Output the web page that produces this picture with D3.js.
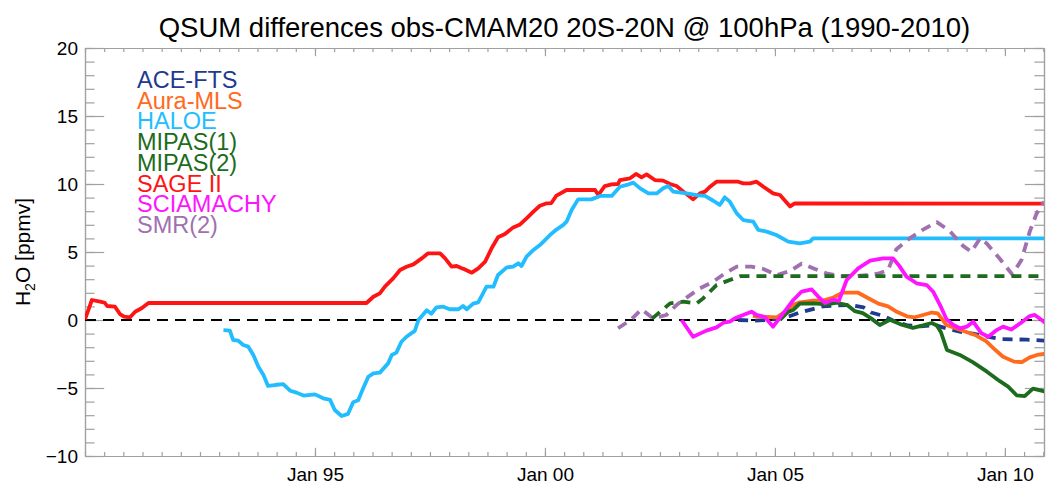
<!DOCTYPE html>
<html>
<head>
<meta charset="utf-8">
<script src="https://cdn.jsdelivr.net/npm/d3@7"></script>
<style>
  html, body { margin: 0; padding: 0; background: #fff; }
  svg { display: block; font-family: "Liberation Sans", Arial, Helvetica, sans-serif; }
  .axis path, .axis line { stroke: #a0a0a0; stroke-width: 1.2; }
  .axis text { fill: #000; font-size: 19px; }
</style>
</head>
<body>
<svg id="chart" width="1046" height="486"></svg>
<script>
// QSUM (cumulative sum) differences, obs minus CMAM20, 20S-20N at 100 hPa.
// Time in decimal years, values in ppmv.

const aceTime = [2004.20, 2004.52, 2004.85, 2005.11, 2005.33, 2005.54, 2005.76, 2006.04, 2006.37, 2006.65, 2006.93, 2007.09, 2007.33, 2007.61, 2007.89, 2008.17, 2008.48, 2008.72, 2009.02, 2009.30, 2009.59, 2009.89, 2010.17, 2010.48, 2010.89];
const aceValue = [0.0, -0.05, 0.0, 0.12, 0.3, 0.55, 0.74, 1.0, 1.07, 1.1, 0.92, 0.55, 0.33, -0.1, -0.4, -0.46, -0.37, -0.6, -0.86, -1.0, -1.2, -1.4, -1.42, -1.45, -1.52];

const mlsTime = [2004.52, 2004.67, 2005.04, 2005.22, 2005.40, 2005.54, 2005.83, 2006.05, 2006.27, 2006.48, 2006.80, 2006.99, 2007.25, 2007.46, 2007.65, 2007.87, 2008.04, 2008.22, 2008.41, 2008.54, 2008.73, 2009.04, 2009.35, 2009.59, 2009.76, 2009.96, 2010.20, 2010.37, 2010.54, 2010.70, 2010.89];
const mlsValue = [0.3, 0.25, 0.2, 0.61, 1.1, 1.3, 1.42, 1.42, 1.65, 2.02, 2.02, 1.67, 1.2, 1.0, 0.6, 0.27, 0.2, 0.37, 0.55, 0.49, -0.37, -0.74, -1.1, -1.55, -2.1, -2.7, -3.06, -3.1, -2.75, -2.57, -2.48];

const haloeTime = [1993.01, 1993.15, 1993.22, 1993.33, 1993.44, 1993.55, 1993.66, 1993.77, 1993.88, 1993.98, 1994.13, 1994.31, 1994.46, 1994.60, 1994.75, 1995.00, 1995.18, 1995.33, 1995.43, 1995.58, 1995.72, 1995.83, 1995.94, 1996.05, 1996.16, 1996.27, 1996.41, 1996.59, 1996.67, 1996.77, 1996.88, 1996.99, 1997.17, 1997.25, 1997.43, 1997.53, 1997.64, 1997.79, 1997.93, 1998.12, 1998.22, 1998.30, 1998.44, 1998.55, 1998.73, 1998.88, 1998.98, 1999.17, 1999.31, 1999.42, 1999.49, 1999.60, 1999.75, 1999.89, 2000.00, 2000.11, 2000.25, 2000.40, 2000.47, 2000.58, 2000.72, 2001.01, 2001.20, 2001.45, 2001.63, 2001.78, 2001.92, 2002.07, 2002.25, 2002.43, 2002.57, 2002.68, 2002.79, 2003.08, 2003.30, 2003.48, 2003.66, 2003.80, 2003.91, 2004.02, 2004.17, 2004.31, 2004.53, 2004.64, 2004.82, 2005.03, 2005.29, 2005.54, 2005.76, 2005.83, 2010.89];
const haloeValue = [-0.74, -0.78, -1.47, -1.52, -1.84, -1.96, -2.57, -3.43, -4.04, -4.85, -4.78, -4.71, -5.2, -5.34, -5.56, -5.47, -5.76, -5.88, -6.62, -7.06, -6.9, -6.05, -5.9, -5.0, -4.17, -3.92, -3.87, -3.19, -2.57, -2.4, -1.6, -1.23, -0.8, 0.0, 0.72, 0.46, 0.93, 0.98, 0.79, 0.79, 1.03, 0.79, 1.2, 1.3, 2.45, 2.45, 3.31, 3.87, 3.92, 4.17, 3.97, 4.66, 5.15, 5.51, 5.88, 6.25, 6.65, 6.99, 7.23, 8.09, 8.87, 8.87, 9.12, 9.12, 9.8, 9.93, 10.1, 9.68, 9.31, 9.31, 9.68, 9.85, 9.44, 9.31, 9.19, 9.12, 8.77, 8.46, 9.02, 8.7, 7.84, 7.35, 7.23, 6.62, 6.5, 6.25, 5.76, 5.64, 5.76, 6.0, 6.0];

const mipas1Time = [2002.33, 2002.72, 2003.01, 2003.30, 2003.44, 2003.73, 2004.02, 2004.24, 2010.89];
const mipas1Value = [0.1, 1.22, 1.35, 1.22, 1.59, 2.57, 2.94, 3.22, 3.22];

const mipas2Time = [2005.11, 2005.28, 2005.40, 2005.54, 2005.83, 2006.13, 2006.35, 2006.57, 2006.74, 2006.91, 2007.09, 2007.28, 2007.50, 2007.72, 2008.00, 2008.22, 2008.41, 2008.52, 2008.61, 2008.74, 2009.02, 2009.30, 2009.61, 2009.89, 2010.07, 2010.26, 2010.43, 2010.61, 2010.89];
const mipas2Value = [0.0, 0.6, 0.74, 1.2, 1.22, 1.15, 1.27, 1.1, 0.65, 0.5, 0.12, -0.37, 0.02, -0.3, -0.58, -0.4, -0.22, -0.4, -0.9, -2.2, -2.57, -3.1, -3.8, -4.5, -4.9, -5.55, -5.6, -5.05, -5.27];

const sageTime = [1990.00, 1990.15, 1990.33, 1990.43, 1990.48, 1990.65, 1990.76, 1990.85, 1990.98, 1991.09, 1991.23, 1991.38, 1996.12, 1996.27, 1996.41, 1996.52, 1996.70, 1996.85, 1996.99, 1997.14, 1997.32, 1997.46, 1997.72, 1997.83, 1997.97, 1998.08, 1998.19, 1998.26, 1998.41, 1998.55, 1998.70, 1998.84, 1998.98, 1999.13, 1999.31, 1999.46, 1999.60, 1999.75, 1999.89, 2000.04, 2000.14, 2000.25, 2000.47, 2001.09, 2001.16, 2001.30, 2001.45, 2001.59, 2001.63, 2001.85, 2001.98, 2002.10, 2002.21, 2002.39, 2002.57, 2002.72, 2002.86, 2003.01, 2003.22, 2003.37, 2003.48, 2003.59, 2003.73, 2004.20, 2004.31, 2004.46, 2004.60, 2004.75, 2004.96, 2005.11, 2005.33, 2005.43, 2010.89];
const sageValue = [0.05, 1.47, 1.35, 1.27, 1.03, 0.98, 0.44, 0.25, 0.2, 0.61, 0.86, 1.25, 1.25, 1.71, 1.96, 2.45, 3.06, 3.68, 3.92, 4.09, 4.53, 4.9, 4.9, 4.53, 3.92, 3.97, 3.8, 3.72, 3.48, 3.8, 4.29, 5.27, 6.08, 6.32, 6.81, 7.03, 7.47, 7.97, 8.4, 8.58, 8.6, 9.15, 9.56, 9.56, 9.19, 9.85, 9.97, 10.0, 10.29, 10.42, 10.74, 10.49, 10.71, 10.29, 10.25, 10.0, 9.85, 9.44, 8.87, 9.31, 9.44, 9.8, 10.17, 10.17, 10.05, 10.05, 10.17, 9.8, 9.31, 9.19, 8.35, 8.58, 8.55];

const sciaTime = [2002.97, 2003.22, 2003.51, 2003.73, 2003.88, 2004.02, 2004.13, 2004.31, 2004.49, 2004.60, 2004.78, 2004.96, 2005.18, 2005.40, 2005.58, 2005.80, 2005.94, 2006.09, 2006.27, 2006.39, 2006.56, 2006.81, 2007.07, 2007.35, 2007.57, 2007.70, 2007.86, 2008.08, 2008.30, 2008.44, 2008.59, 2008.73, 2008.88, 2009.02, 2009.17, 2009.31, 2009.49, 2009.64, 2009.82, 2009.96, 2010.14, 2010.33, 2010.54, 2010.65, 2010.80, 2010.89];
const sciaValue = [0.0, -1.23, -0.78, -0.54, -0.2, -0.12, 0.12, 0.37, 0.61, 0.37, 0.22, -0.49, 0.49, 1.47, 2.08, 2.25, 1.72, 1.25, 1.5, 1.4, 2.94, 3.8, 4.36, 4.53, 4.53, 4.0, 3.19, 2.7, 2.57, 2.08, 1.1, 0.05, -0.37, -0.61, -0.49, -0.12, -0.98, -1.23, -0.74, -0.49, -0.7, -0.25, 0.29, 0.37, 0.0, -0.25];

const smrTime = [2001.59, 2001.88, 2002.10, 2002.35, 2002.64, 2002.86, 2003.11, 2003.37, 2003.66, 2003.91, 2004.17, 2004.49, 2004.75, 2005.04, 2005.33, 2005.58, 2005.83, 2006.12, 2006.41, 2006.70, 2006.99, 2007.24, 2007.46, 2007.64, 2007.93, 2008.22, 2008.52, 2008.80, 2009.09, 2009.27, 2009.46, 2009.60, 2009.89, 2010.16, 2010.36, 2010.54, 2010.69, 2010.85];
const smrValue = [-0.61, 0.05, 0.79, 0.12, 0.37, 1.1, 1.72, 2.33, 2.82, 3.43, 3.92, 3.92, 3.75, 3.31, 3.6, 4.15, 3.8, 3.43, 3.22, 3.2, 3.3, 3.4, 3.68, 5.2, 6.0, 6.65, 7.2, 6.55, 5.45, 5.02, 6.0, 5.64, 4.5, 3.35, 4.41, 6.5, 7.84, 8.7];

// Legend entries, colours and dash styles
const seriesNames = ["ACE-FTS", "Aura-MLS", "HALOE", "MIPAS(1)", "MIPAS(2)", "SAGE II", "SCIAMACHY", "SMR(2)"];
const seriesColors = ["#1f3a8f", "#ff6a1c", "#22bdff", "#1d6b1d", "#1d6b1d", "#ff1414", "#ff14ff", "#a070b0"];
const seriesDashed = [true, false, false, true, false, false, false, true];
const seriesTimes = [aceTime, mlsTime, haloeTime, mipas1Time, mipas2Time, sageTime, sciaTime, smrTime];
const seriesValues = [aceValue, mlsValue, haloeValue, mipas1Value, mipas2Value, sageValue, sciaValue, smrValue];
// drawing order (later ones on top)
const drawOrder = [5, 2, 7, 3, 0, 1, 4, 6];

// Axes
const xDomain = [1990, 2010.85];
const yDomain = [-10, 20];
const xMajorTicks = [1995, 2000, 2005, 2010];
const xTickLabels = ["Jan 95", "Jan 00", "Jan 05", "Jan 10"];
const yMajorTicks = [-10, -5, 0, 5, 10, 15, 20];
const titleText = "QSUM differences obs-CMAM20 20S-20N @ 100hPa (1990-2010)";

const svg = d3.select("#chart");
const plotLeft = 85, plotRight = 1044, plotTop = 48, plotBottom = 456;

const x = d3.scaleLinear().domain(xDomain).range([plotLeft, plotRight]);
const y = d3.scaleLinear().domain(yDomain).range([plotBottom, plotTop]);

// minor ticks: every 5 months on x, every 1 ppmv on y
const xMinor = d3.range(0, 51).map(k => 1990 + k * 5 / 12).filter(v => v <= xDomain[1]);
const yMinor = d3.range(yDomain[0], yDomain[1] + 1, 1);

const plotW = plotRight - plotLeft, plotH = plotBottom - plotTop;
const xMajLen = plotH * 0.02, xMinLen = xMajLen / 2;
const yMajLen = plotW * 0.02, yMinLen = yMajLen / 2;

// bottom axis
svg.append("g").attr("class", "axis").attr("transform", `translate(0,${plotBottom})`)
  .call(d3.axisBottom(x).tickValues(xMinor).tickSize(-xMinLen).tickFormat("").tickSizeOuter(0));
svg.append("g").attr("class", "axis").attr("transform", `translate(0,${plotBottom})`)
  .call(d3.axisBottom(x).tickValues(xMajorTicks).tickSize(-xMajLen).tickPadding(12)
    .tickFormat((d, i) => xTickLabels[i]).tickSizeOuter(0));
// top axis
svg.append("g").attr("class", "axis").attr("transform", `translate(0,${plotTop})`)
  .call(d3.axisTop(x).tickValues(xMinor).tickSize(-xMinLen).tickFormat("").tickSizeOuter(0));
svg.append("g").attr("class", "axis").attr("transform", `translate(0,${plotTop})`)
  .call(d3.axisTop(x).tickValues(xMajorTicks).tickSize(-xMajLen).tickFormat("").tickSizeOuter(0));
// left axis
svg.append("g").attr("class", "axis").attr("transform", `translate(${plotLeft},0)`)
  .call(d3.axisLeft(y).tickValues(yMinor).tickSize(-yMinLen).tickFormat("").tickSizeOuter(0));
svg.append("g").attr("class", "axis").attr("transform", `translate(${plotLeft},0)`)
  .call(d3.axisLeft(y).tickValues(yMajorTicks).tickSize(-yMajLen).tickPadding(7)
    .tickFormat(d3.format("d")).tickSizeOuter(0));
// right axis
svg.append("g").attr("class", "axis").attr("transform", `translate(${plotRight},0)`)
  .call(d3.axisRight(y).tickValues(yMinor).tickSize(-yMinLen).tickFormat("").tickSizeOuter(0));
svg.append("g").attr("class", "axis").attr("transform", `translate(${plotRight},0)`)
  .call(d3.axisRight(y).tickValues(yMajorTicks).tickSize(-yMajLen).tickFormat("").tickSizeOuter(0));

svg.selectAll(".axis .domain").attr("stroke", "#a0a0a0");

// clip to plot frame
svg.append("clipPath").attr("id", "plotclip")
  .append("rect").attr("x", plotLeft).attr("y", plotTop).attr("width", plotW).attr("height", plotH);

const plot = svg.append("g").attr("clip-path", "url(#plotclip)");

// zero line
plot.append("line")
  .attr("x1", x(xDomain[0])).attr("x2", x(xDomain[1]))
  .attr("y1", y(0)).attr("y2", y(0))
  .attr("stroke", "#000").attr("stroke-width", 2.2).attr("stroke-dasharray", "11,7");

const line = d3.line().x(d => x(d[0])).y(d => y(d[1]));

drawOrder.forEach(i => {
  const pts = seriesTimes[i].map((t, k) => [t, seriesValues[i][k]]);
  plot.append("path")
    .datum(pts)
    .attr("d", line)
    .attr("fill", "none")
    .attr("stroke", seriesColors[i])
    .attr("stroke-width", 3.8)
    .attr("stroke-linejoin", "round")
    .attr("stroke-dasharray", seriesDashed[i] ? "10,7" : null);
});

// legend: one tightly stacked text block, each line in its series colour
svg.append("text")
  .attr("x", 137)
  .attr("y", 88)
  .style("font-size", "23.5px")
  .selectAll("tspan")
  .data(seriesNames)
  .join("tspan")
  .attr("x", 137)
  .attr("dy", (d, i) => i === 0 ? 0 : 20.7)
  .attr("fill", (d, i) => seriesColors[i])
  .text(d => d);

// title
svg.append("text")
  .attr("x", (plotLeft + plotRight) / 2).attr("y", 37)
  .attr("text-anchor", "middle")
  .style("font-size", "27.5px")
  .text(titleText);

// y axis label
const ylab = svg.append("text")
  .attr("transform", `translate(30,${(plotTop + plotBottom) / 2}) rotate(-90)`)
  .attr("text-anchor", "middle")
  .style("font-size", "21px");
ylab.append("tspan").text("H");
ylab.append("tspan").attr("dy", 5).style("font-size", "14px").text("2");
ylab.append("tspan").attr("dy", -5).text("O [ppmv]");
</script>
</body>
</html>
